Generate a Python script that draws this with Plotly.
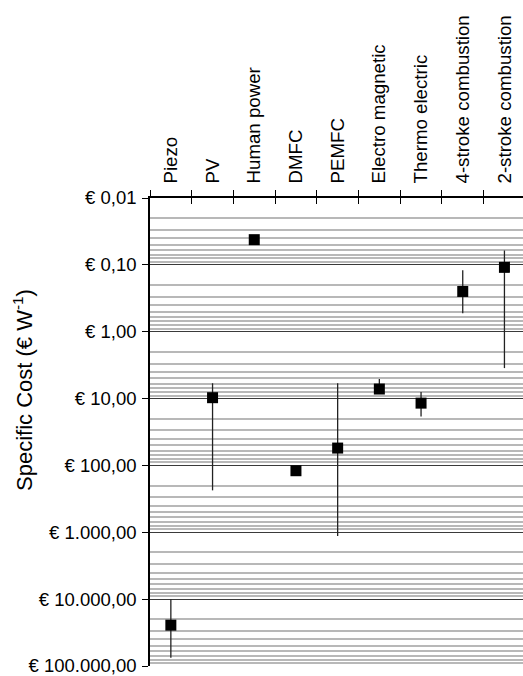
import plotly.graph_objects as go

categories = ["Piezo", "PV", "Human power", "DMFC", "PEMFC", "Electro magnetic",
              "Thermo electric", "4-stroke combustion", "2-stroke combustion"]
cost = [24500, 9.7, 0.042, 120, 55, 7.2, 11.7, 0.25, 0.109]
cost_low = [10000, 5.9, 0.042, 120, 5.9, 5.1, 8.0, 0.12, 0.061]
cost_high = [75000, 236, 0.042, 120, 1135, 8.5, 18.6, 0.53, 3.5]

tick_vals = [0.01, 0.1, 1, 10, 100, 1000, 10000, 100000]
tick_text = ["€ 0,01", "€ 0,10", "€ 1,00", "€ 10,00", "€ 100,00",
             "€ 1.000,00", "€ 10.000,00", "€ 100.000,00"]

minor_vals = [m * v for v in tick_vals[:-1] for m in range(2, 10)]

FONT = "Liberation Sans, Arial, sans-serif"

fig = go.Figure()
fig.add_trace(go.Scatter(
    x=categories, y=cost, mode="markers",
    marker=dict(symbol="square", size=11, color="black"),
    error_y=dict(type="data", symmetric=False,
                 array=[h - c for h, c in zip(cost_high, cost)],
                 arrayminus=[c - l for c, l in zip(cost, cost_low)],
                 color="#222222", thickness=1.3, width=0),
    showlegend=False,
))
# invisible trace for overlay axis carrying inner tick marks
fig.add_trace(go.Scatter(x=categories, y=cost, xaxis="x2", mode="markers",
                         marker=dict(opacity=0), showlegend=False, hoverinfo="skip"))

xr = [-0.5, 8.445]
fig.update_layout(
    width=523, height=676,
    margin=dict(l=150, r=0, t=198, b=10),
    paper_bgcolor="white", plot_bgcolor="white",
    font=dict(family=FONT, size=18, color="black"),
    xaxis=dict(type="category", side="top", range=xr, tickangle=-90,
               tickson="boundaries", ticks="outside", ticklen=6, tickcolor="black",
               tickwidth=1.2, showline=True, linecolor="black", linewidth=1.5,
               showgrid=False, zeroline=False, ticklabelstandoff=9, automargin=False,
               ticklabeloverflow="allow",
               tickfont=dict(size=18.7, family=FONT)),
    xaxis2=dict(type="category", side="top", overlaying="x", range=xr,
                tickson="boundaries", ticks="inside", ticklen=6, tickcolor="black",
                tickwidth=1.2, showticklabels=False, showgrid=False, showline=False,
                zeroline=False, matches="x", automargin=False),
    yaxis=dict(type="log", range=[5, -2], tickvals=tick_vals, ticktext=tick_text,
               ticks="outside", ticklen=6, tickcolor="black", tickwidth=1.2,
               showline=True, linecolor="black", linewidth=1.5,
               showgrid=True, gridcolor="#3a3a3a", gridwidth=1.2,
               zeroline=False, ticklabelstandoff=2, automargin=False,
               ticklabeloverflow="allow",
               tickfont=dict(size=18.5, family=FONT),
               minor=dict(tickvals=minor_vals, showgrid=True, gridcolor="#b8b8b8",
                          gridwidth=1.5, ticks="")),
    annotations=[dict(text="Specific Cost (€ W<sup>-1</sup>)", textangle=-90,
                      xref="paper", yref="paper", x=(23 - 150) / 373, y=(666 - 390) / 468,
                      xanchor="center", yanchor="middle", showarrow=False,
                      font=dict(size=22, family=FONT, color="black"))],
)

fig.write_html("out.html", config={"displayModeBar": False},
               post_script="document.body.style.margin='0';")
